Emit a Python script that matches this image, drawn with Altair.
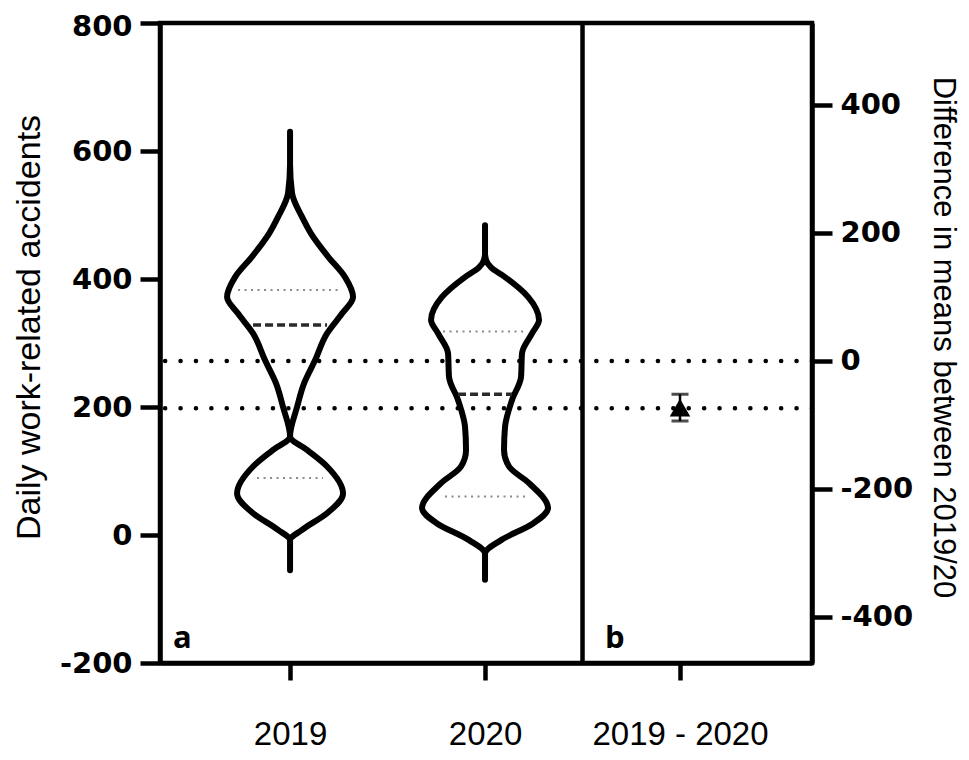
import altair as alt
import pandas as pd

# ---------------- data ----------------
categories = ["2019", "2020"]
cat_pos = [0, 1]
diff_label = "2019 - 2020"
diff_pos = 2

# violin outlines: value (accidents) and half-width (px at 195 px per category)
v2019_y = [630, 580, 534, 497, 471, 435, 403, 372, 346, 315, 273, 237, 200, 154, 133, 107, 65, 34, 8, -8, -55]
v2019_w = [0, 0, 2, 12, 21, 38, 55, 63, 52, 37, 25, 14, 7, 0, 17, 37, 53, 37, 12, 0, 0]
v2020_y = [484, 440, 430, 418, 403, 372, 336, 315, 284, 247, 211, 169, 133, 107, 81, 42, 18, -8, -29, -70]
v2020_w = [0, 0, 1, 6, 20, 43, 54, 47, 37, 36, 27, 20, 19, 24, 44, 63, 48, 16, 0, 0]

# quartiles (Q3, Q1) and medians with their half-widths
q_2019 = [383, 89]
q_2019_w = [52, 33]
q_2020 = [318, 60]
q_2020_w = [42, 40]
med = [328, 220]
med_w = [37, 27]

# group means (dotted reference lines)
means = [272, 198]

# difference of means with its interval
diff_mean = [-73]
diff_lo = [-94]
diff_hi = [-52]

PX = 195.0  # px per category unit used when the widths were read

# ---------------- tables ----------------
rows = []
for name, pos, ys, ws in [("2019", cat_pos[0], v2019_y, v2019_w), ("2020", cat_pos[1], v2020_y, v2020_w)]:
    for y, w in zip(ys, ws):
        rows.append({"group": name, "value": y, "lo": pos - w / PX, "hi": pos + w / PX})
violin_df = pd.DataFrame(rows)

qrows = []
for pos, qs, qw in [(cat_pos[0], q_2019, q_2019_w), (cat_pos[1], q_2020, q_2020_w)]:
    for q, w in zip(qs, qw):
        qrows.append({"value": q, "lo": pos - w / PX, "hi": pos + w / PX})
quart_df = pd.DataFrame(qrows)

med_df = pd.DataFrame({"value": med,
                       "lo": [p - w / PX for p, w in zip(cat_pos, med_w)],
                       "hi": [p + w / PX for p, w in zip(cat_pos, med_w)]})
mean_df = pd.DataFrame({"value": means})
diff_df = pd.DataFrame({"x": [diff_pos], "diff": diff_mean, "lo": diff_lo, "hi": diff_hi})
panel_df = pd.DataFrame({"x": [cat_pos[0] - 0.6, (cat_pos[1] + diff_pos) / 2 + 0.115],
                         "value": [-177, -177], "t": ["a", "b"]})

# ---------------- scales / axes ----------------
FONT = "Liberation Sans"
TICKFONT = "DejaVu Sans"
label_expr = (f"datum.value == {cat_pos[0]} ? '{categories[0]}' : "
              f"datum.value == {cat_pos[1]} ? '{categories[1]}' : '{diff_label}'")

xscale = alt.Scale(domain=[-0.667, 2.677], nice=False, zero=False)
xaxis = alt.Axis(values=cat_pos + [diff_pos], labelExpr=label_expr, title=None, grid=False,
                 tickSize=17, tickWidth=4.5, tickColor="black", domainWidth=4.5, domainColor="black",
                 labelFont=FONT, labelFontSize=33, labelColor="black", labelPadding=38,
                 labelFlush=False)
X = lambda f: alt.X(f, type="quantitative", scale=xscale, axis=xaxis)

yscale = alt.Scale(domain=[-200, 800], nice=False, zero=False)
yaxis = alt.Axis(values=[-200, 0, 200, 400, 600, 800], title="Daily work-related accidents", grid=False,
                 orient="left", tickSize=20, tickWidth=4.5, tickColor="black",
                 domainWidth=4.5, domainColor="black", labelExpr="'' + datum.value",
                 labelFont=TICKFONT, labelFontSize=29, labelFontWeight="bold", labelColor="black",
                 labelPadding=8, labelFlush=False,
                 labelOffset=alt.condition("datum.value == 800", alt.value(3), alt.value(0)),
                 titleFont=FONT, titleFontSize=34, titleFontWeight="normal", titleColor="black",
                 titleAngle=-90, titleX=-131, titleY=304, titleAlign="center", titleBaseline="middle")
Y = lambda f: alt.Y(f, type="quantitative", scale=yscale, axis=yaxis)

rscale = alt.Scale(domain=[-472, 528], nice=False, zero=False)
raxis = alt.Axis(values=[-400, -200, 0, 200, 400], title="Difference in means between 2019/20", grid=False,
                 orient="right", tickSize=20, tickWidth=4.5, tickColor="black",
                 domainWidth=4.5, domainColor="black", labelExpr="'' + datum.value",
                 labelFont=TICKFONT, labelFontSize=29, labelFontWeight="bold", labelColor="black",
                 labelPadding=8, labelFlush=False,
                 titleFont=FONT, titleFontSize=31, titleFontWeight="normal", titleColor="black",
                 titleAngle=90, titleX=130, titleY=314, titleAlign="center", titleBaseline="middle")
R = lambda f: alt.Y(f, type="quantitative", scale=rscale, axis=raxis)

# ---------------- layers ----------------
violins = alt.Chart(violin_df).mark_area(
    orient="horizontal", interpolate="monotone", fillOpacity=0, stroke="black",
    strokeWidth=6, strokeJoin="round", strokeCap="round"
).encode(y=Y("value"), x=X("lo"), x2="hi", detail="group:N")

quarts = alt.Chart(quart_df).mark_rule(color="#8a8a8a", strokeWidth=2, strokeDash=[2, 4.5]).encode(
    y=Y("value"), x=X("lo"), x2="hi")
meds = alt.Chart(med_df).mark_rule(color="#2a2a2a", strokeWidth=3.5, strokeDash=[8, 4]).encode(
    y=Y("value"), x=X("lo"), x2="hi")
mean_lines = alt.Chart(mean_df).mark_rule(color="black", strokeWidth=4.5, strokeDash=[0.1, 15.3],
                                          strokeCap="round").encode(y=Y("value"))
divider = alt.Chart(pd.DataFrame({"x": [(cat_pos[1] + diff_pos) / 2]})).mark_rule(
    color="black", strokeWidth=4.5).encode(x=X("x"))
panel_txt = alt.Chart(panel_df).mark_text(font="Open Sans", fontSize=31, fontWeight="bold", color="black",
                                          align="left", baseline="alphabetic").encode(
    x=X("x"), y=Y("value"), text="t:N")

left = alt.layer(violins, quarts, meds, mean_lines, divider, panel_txt)

err = alt.Chart(diff_df).mark_rule(color="black", strokeWidth=2.5).encode(x=X("x"), y=R("lo"), y2="hi")
caps_lo = alt.Chart(diff_df).mark_tick(orient="horizontal", size=17, thickness=3, color="black").encode(
    x=X("x"), y=R("lo"))
caps_hi = alt.Chart(diff_df).mark_tick(orient="horizontal", size=17, thickness=3, color="black").encode(
    x=X("x"), y=R("hi"))
pt = alt.Chart(diff_df).mark_point(shape="triangle-up", filled=True, size=420, color="black", opacity=1).encode(
    x=X("x"), y=R("diff"))

right = alt.layer(err, caps_lo, caps_hi, pt)

chart = alt.layer(left, right).resolve_scale(y="independent").properties(
    width=652, height=640,
    autosize=alt.AutoSizeParams(type="none"),
    padding={"left": 152, "top": 15, "right": 149, "bottom": 89},
    background="white",
).configure_view(stroke="black", strokeWidth=4.5)

chart.save("out.html", embed_options={"renderer": "svg", "actions": False})
